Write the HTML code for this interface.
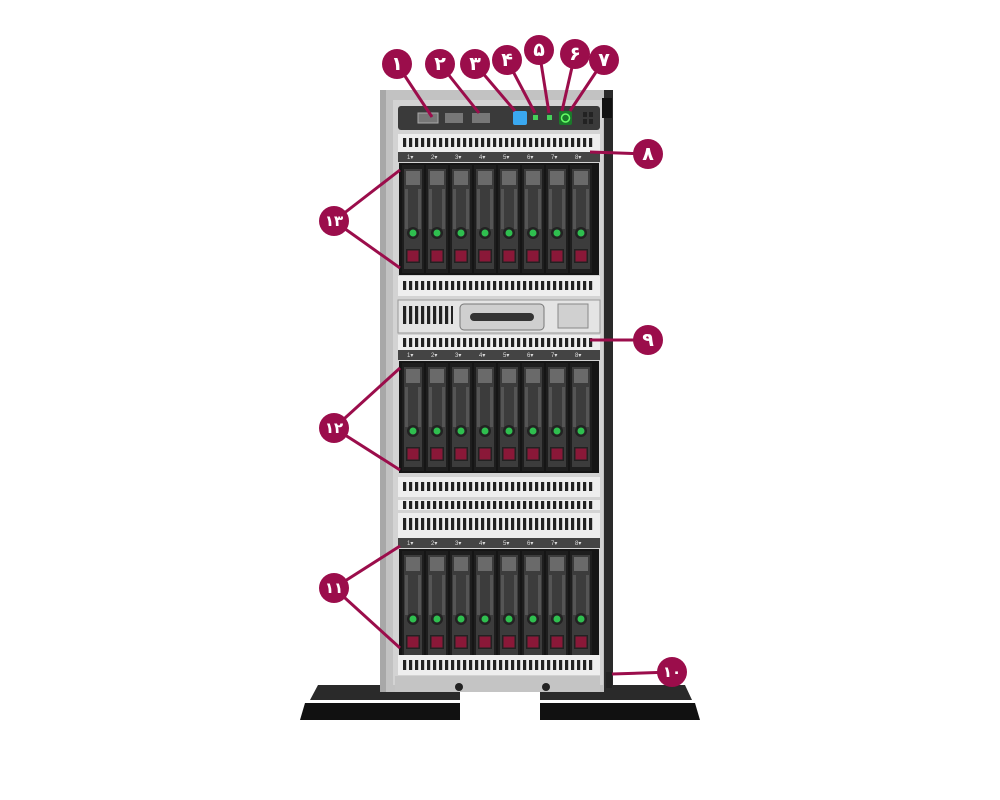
<!DOCTYPE html>
<html><head><meta charset="utf-8"><style>
html,body{margin:0;padding:0;background:#fff;width:1000px;height:800px;overflow:hidden}
svg{display:block}
.n{font-family:"DejaVu Sans","Noto Sans CJK SC",sans-serif;font-weight:bold;font-size:19px;fill:#fff;text-anchor:middle;dominant-baseline:central}
</style></head><body>
<svg width="1000" height="800" viewBox="0 0 1000 800" xmlns="http://www.w3.org/2000/svg">
<defs>
  <pattern id="vent" x="0" y="0" width="6" height="20" patternUnits="userSpaceOnUse">
    <rect x="1" y="0" width="3.2" height="20" fill="#222"/>
  </pattern>
  <g id="drive">
    <rect x="0" y="0" width="22" height="108" fill="#1e1e1e"/>
    <rect x="2" y="4" width="18" height="100" fill="#3c3c3c"/>
    <rect x="4" y="6" width="14" height="14" fill="#6a6a6a"/>
    <rect x="3" y="24" width="3" height="40" fill="#555"/>
    <rect x="16" y="24" width="3" height="40" fill="#555"/>
    <circle cx="11" cy="68" r="6" fill="#222"/>
    <circle cx="11" cy="68" r="3.5" fill="#2fbf4f"/>
    <rect x="4" y="84" width="14" height="14" fill="#222"/>
    <rect x="5.5" y="85.5" width="11" height="11" fill="#8a1838"/>
  </g>
  <g id="cage">
    <rect x="398" y="0" width="202" height="10" fill="#444"/>
    <g fill="#ddd" font-family="Liberation Sans,sans-serif" font-size="6">
      <text x="407" y="7">1▾</text><text x="431" y="7">2▾</text><text x="455" y="7">3▾</text><text x="479" y="7">4▾</text>
      <text x="503" y="7">5▾</text><text x="527" y="7">6▾</text><text x="551" y="7">7▾</text><text x="575" y="7">8▾</text>
    </g>
    <rect x="399" y="11" width="200" height="112" fill="#151515"/>
    <use href="#drive" x="402" y="13"/><use href="#drive" x="426" y="13"/><use href="#drive" x="450" y="13"/><use href="#drive" x="474" y="13"/>
    <use href="#drive" x="498" y="13"/><use href="#drive" x="522" y="13"/><use href="#drive" x="546" y="13"/><use href="#drive" x="570" y="13"/>
  </g>
</defs>

<!-- feet -->
<polygon points="318,685 460,685 460,700 310,700" fill="#2a2a2a"/>
<polygon points="305,703 460,703 460,720 300,720" fill="#111"/>
<polygon points="540,685 685,685 692,700 540,700" fill="#2a2a2a"/>
<polygon points="540,703 695,703 700,720 540,720" fill="#111"/>

<!-- chassis -->
<rect x="380" y="90" width="233" height="602" fill="#c2c2c2"/>
<rect x="380" y="90" width="6" height="602" fill="#a8a8a8"/>
<rect x="604" y="90" width="9" height="602" fill="#2a2a2a"/>
<rect x="393" y="100" width="210" height="585" fill="#d3d3d3"/>

<!-- top control panel -->
<rect x="398" y="106" width="202" height="24" rx="3" fill="#3a3a3a"/>
<rect x="418" y="113" width="20" height="10" fill="#777" stroke="#aaa"/>
<rect x="445" y="113" width="18" height="10" fill="#777"/>
<rect x="472" y="113" width="18" height="10" fill="#777"/>
<rect x="513" y="111" width="14" height="14" rx="2" fill="#3aa8f0"/>
<rect x="533" y="115" width="5" height="5" fill="#46d05a"/>
<rect x="547" y="115" width="5" height="5" fill="#46d05a"/>
<rect x="559" y="111" width="13" height="14" rx="2" fill="#1a7a2a"/>
<circle cx="565.5" cy="118" r="4" fill="none" stroke="#6f6" stroke-width="1.5"/>
<rect x="583" y="112" width="4" height="5" fill="#222"/><rect x="589" y="112" width="4" height="5" fill="#222"/>
<rect x="583" y="119" width="4" height="5" fill="#222"/><rect x="589" y="119" width="4" height="5" fill="#222"/>
<rect x="602" y="98" width="10" height="20" fill="#111"/>

<!-- cage 1 -->
<rect x="398" y="134" width="202" height="18" fill="#eee"/>
<rect x="403" y="138" width="192" height="9" fill="url(#vent)"/>
<use href="#cage" x="0" y="152"/>
<rect x="398" y="276" width="202" height="20" fill="#eee"/>
<rect x="403" y="281" width="192" height="9" fill="url(#vent)"/>

<!-- optical bay -->
<rect x="398" y="300" width="202" height="33" fill="#e4e4e4" stroke="#999"/>
<rect x="403" y="306" width="50" height="18" fill="url(#vent)"/>
<rect x="460" y="304" width="84" height="26" rx="4" fill="#cfcfcf" stroke="#777"/>
<rect x="470" y="313" width="64" height="8" rx="4" fill="#333"/>
<rect x="558" y="304" width="30" height="24" fill="#d0d0d0" stroke="#888"/>

<!-- cage 2 -->
<rect x="398" y="335" width="202" height="15" fill="#eee"/>
<rect x="403" y="338" width="192" height="9" fill="url(#vent)"/>
<use href="#cage" x="0" y="350"/>
<rect x="398" y="477" width="202" height="20" fill="#eee"/>
<rect x="403" y="482" width="192" height="9" fill="url(#vent)"/>

<!-- cage 3 -->
<rect x="398" y="500" width="202" height="10" fill="#eee"/>
<rect x="403" y="501" width="192" height="8" fill="url(#vent)"/>
<rect x="398" y="513" width="202" height="25" fill="#eee"/>
<rect x="403" y="518" width="192" height="12" fill="url(#vent)"/>
<use href="#cage" x="0" y="538"/>
<rect x="398" y="655" width="202" height="20" fill="#eee"/>
<rect x="403" y="660" width="192" height="10" fill="url(#vent)"/>

<!-- base -->
<rect x="395" y="676" width="205" height="16" fill="#c4c4c4"/>
<circle cx="459" cy="687" r="4" fill="#222"/><circle cx="546" cy="687" r="4" fill="#222"/>
<rect x="606" y="672" width="6" height="16" fill="#222"/>

<!-- callout lines -->
<g stroke="#9b0d4b" stroke-width="3" fill="none">
  <line x1="397" y1="64" x2="432" y2="117"/>
  <line x1="440" y1="64" x2="479" y2="113"/>
  <line x1="475" y1="64" x2="515" y2="111"/>
  <line x1="507" y1="60" x2="535" y2="113"/>
  <line x1="539" y1="50" x2="549" y2="113"/>
  <line x1="575" y1="54" x2="562" y2="111"/>
  <line x1="604" y1="60" x2="570" y2="111"/>
  <line x1="648" y1="154" x2="590" y2="152"/>
  <line x1="648" y1="340" x2="590" y2="340"/>
  <line x1="672" y1="672" x2="612" y2="674"/>
  <line x1="334" y1="221" x2="400" y2="170"/><line x1="334" y1="221" x2="400" y2="268"/>
  <line x1="334" y1="428" x2="400" y2="368"/><line x1="334" y1="428" x2="400" y2="470"/>
  <line x1="334" y1="588" x2="400" y2="546"/><line x1="334" y1="588" x2="400" y2="648"/>
</g>
<g fill="#9b0d4b">
  <circle cx="397" cy="64" r="15"/><circle cx="440" cy="64" r="15"/><circle cx="475" cy="64" r="15"/>
  <circle cx="507" cy="60" r="15"/><circle cx="539" cy="50" r="15"/><circle cx="575" cy="54" r="15"/>
  <circle cx="604" cy="60" r="15"/><circle cx="648" cy="154" r="15"/><circle cx="648" cy="340" r="15"/>
  <circle cx="672" cy="672" r="15"/><circle cx="334" cy="221" r="15"/><circle cx="334" cy="428" r="15"/>
  <circle cx="334" cy="588" r="15"/>
</g>
<text class="n" x="397" y="64">۱</text>
<text class="n" x="440" y="64">۲</text>
<text class="n" x="475" y="64">۳</text>
<text class="n" x="507" y="60">۴</text>
<text class="n" x="539" y="50">۵</text>
<text class="n" x="575" y="54">۶</text>
<text class="n" x="604" y="60">۷</text>
<text class="n" x="648" y="154">۸</text>
<text class="n" x="648" y="340">۹</text>
<text class="n" x="672" y="672" style="font-size:15px">۱۰</text>
<text class="n" x="334" y="588" style="font-size:15px">۱۱</text>
<text class="n" x="334" y="428" style="font-size:15px">۱۲</text>
<text class="n" x="334" y="221" style="font-size:15px">۱۳</text>
</svg>
</body></html>
